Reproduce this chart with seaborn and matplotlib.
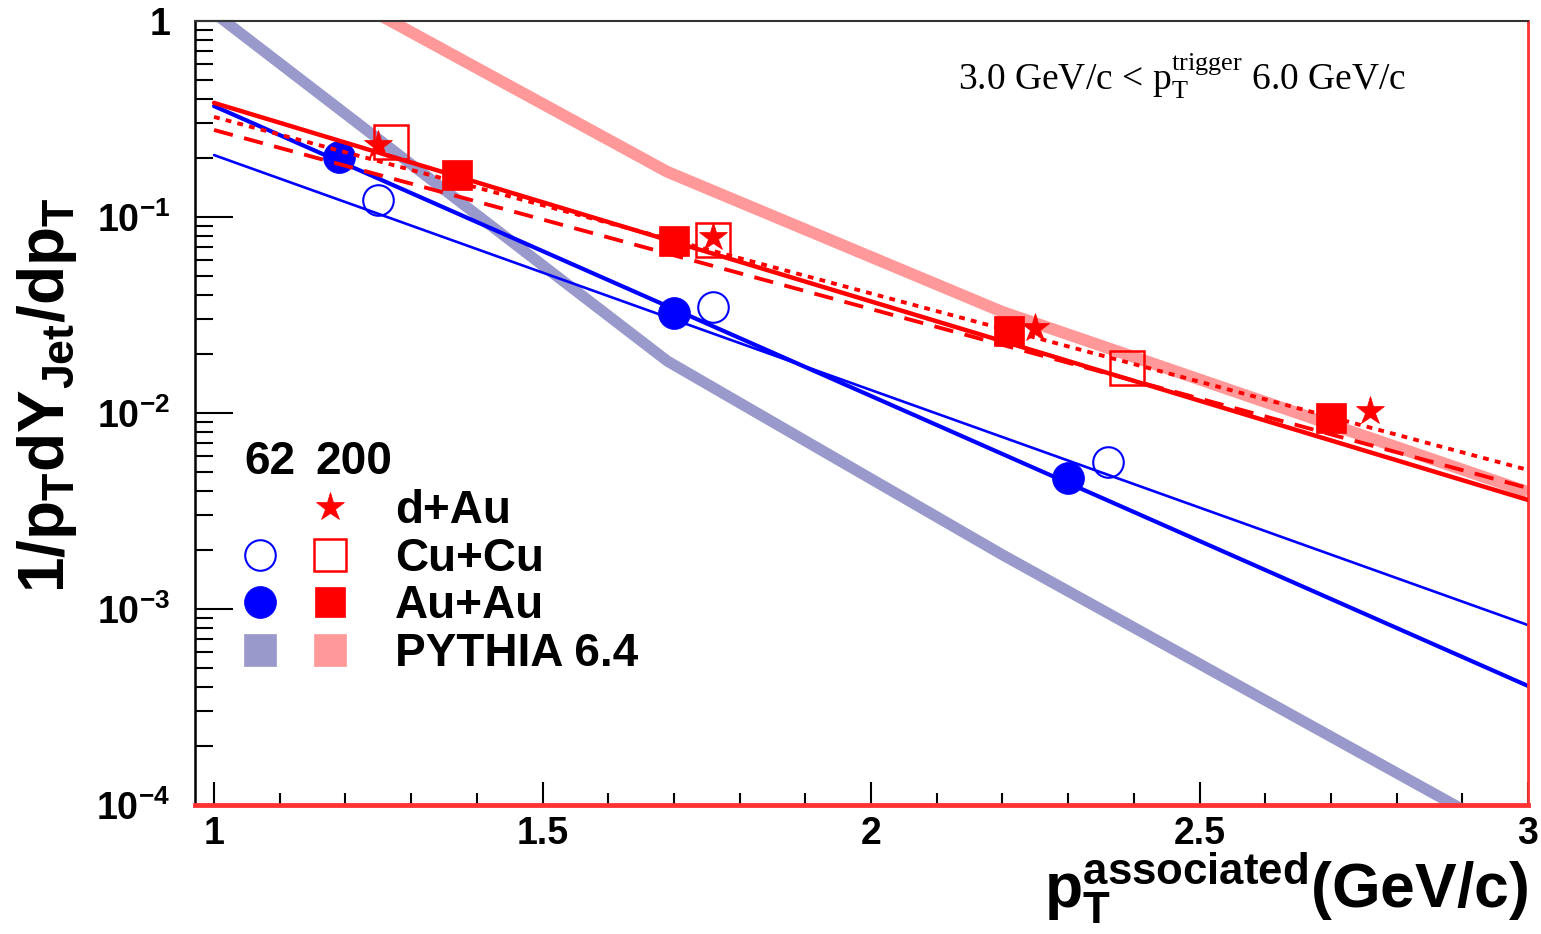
import numpy as np
import matplotlib
matplotlib.use("Agg")
import matplotlib.pyplot as plt
import seaborn as sns
from matplotlib.lines import Line2D
from matplotlib.legend_handler import HandlerTuple
from matplotlib.ticker import FixedLocator, FixedFormatter, NullFormatter

# ---------------- data ----------------
auau62_x = [1.19, 1.70, 2.30]
auau62_y = [0.202, 0.0324, 0.00466]
cucu62_x = [1.25, 1.76, 2.36]
cucu62_y = [0.122, 0.0347, 0.00562]
auau200_x = [1.37, 1.70, 2.21, 2.70]
auau200_y = [0.164, 0.0755, 0.0262, 0.00943]
cucu200_x = [1.27, 1.76, 2.39]
cucu200_y = [0.241, 0.0763, 0.0170]
dau200_x = [1.25, 1.76, 2.25, 2.76]
dau200_y = [0.233, 0.0791, 0.0271, 0.0102]

fit_x = [1.0, 3.0]
fit_auau62 = [0.368, 4.05e-4]
fit_cucu62 = [0.207, 8.28e-4]
fit_auau200 = [0.382, 3.60e-3]
fit_dau200 = [0.324, 5.12e-3]
fit_cucu200 = [0.278, 4.14e-3]

pythia_x = [1.0, 1.69, 2.2, 3.0]
pythia62_y = [1.10, 0.0184, 0.00189, 6.2e-5]
pythia200_y = [3.1, 0.170, 0.0328, 0.00395]

xticks = [1, 1.5, 2, 2.5, 3]
xtick_labels = ["1", "1.5", "2", "2.5", "3"]
yticks = [1, 1e-1, 1e-2, 1e-3, 1e-4]
ytick_labels = ["1", r"$\mathbf{10^{-1}}$", r"$\mathbf{10^{-2}}$",
                r"$\mathbf{10^{-3}}$", r"$\mathbf{10^{-4}}$"]
legend_labels = ["d+Au", "Cu+Cu", "Au+Au", "PYTHIA 6.4"]
energy_headers = ["62", "200"]

# ---------------- style ----------------
sns.set_style("white")
plt.rcParams["font.family"] = ["Liberation Sans", "DejaVu Sans"]
plt.rcParams["text.color"] = "black"
plt.rcParams["axes.labelcolor"] = "black"
plt.rcParams["xtick.color"] = "black"
plt.rcParams["ytick.color"] = "black"
plt.rcParams["mathtext.fontset"] = "custom"
plt.rcParams["mathtext.rm"] = "Liberation Serif"
plt.rcParams["mathtext.it"] = "Liberation Serif:italic"
plt.rcParams["mathtext.bf"] = "Liberation Sans:bold"
plt.rcParams["mathtext.sf"] = "Liberation Sans"

BLUE = "#0000ff"
RED = "#ff0000"
PY_BLUE = "#9999cc"
PY_RED = "#ff9999"

W, H = 1541, 934
fig = plt.figure(figsize=(W / 100, H / 100), dpi=100)
L, R, T, B = 195, 1528, 21, 805
ax = fig.add_axes([L / W, 1 - B / H, (R - L) / W, (B - T) / H])
ax.set_yscale("log")
ax.set_xlim(0.971, 3.0)
ax.set_ylim(1e-4, 1.0)

# PYTHIA curves
sns.lineplot(x=pythia_x, y=pythia62_y, ax=ax, color=PY_BLUE, lw=8, zorder=1,
             solid_capstyle="butt")
sns.lineplot(x=pythia_x, y=pythia200_y, ax=ax, color=PY_RED, lw=8.5, zorder=1,
             solid_capstyle="butt")

# fit lines
sns.lineplot(x=fit_x, y=fit_cucu62, ax=ax, color=BLUE, lw=1.9, zorder=2)
sns.lineplot(x=fit_x, y=fit_auau62, ax=ax, color=BLUE, lw=3.0, zorder=2)
sns.lineplot(x=fit_x, y=fit_auau200, ax=ax, color=RED, lw=3.2, zorder=4)
sns.lineplot(x=fit_x, y=fit_dau200, ax=ax, color=RED, lw=2.8, zorder=4,
             linestyle=(0, (1.5, 1.6)))
sns.lineplot(x=fit_x, y=fit_cucu200, ax=ax, color=RED, lw=2.8, zorder=4,
             linestyle=(0, (5, 3)))

# data points
def pts(x, y, marker, ms, mfc, mec, mew, z):
    sns.lineplot(x=x, y=y, ax=ax, linestyle="none", marker=marker,
                 markersize=ms, markerfacecolor=mfc, markeredgecolor=mec,
                 markeredgewidth=mew, color=mec, zorder=z)

pts(auau62_x, auau62_y, "o", 23, BLUE, BLUE, 0.5, 3)
pts(cucu62_x, cucu62_y, "o", 22, "none", BLUE, 1.5, 3)
pts(cucu200_x, cucu200_y, "s", 25, "none", RED, 1.8, 5)
pts(auau200_x, auau200_y, "s", 22, RED, RED, 0.5, 5)
pts(dau200_x, dau200_y, "*", 21, RED, RED, 0.5, 5)

# ---------------- axes styling ----------------
ax.xaxis.set_major_locator(FixedLocator(xticks))
ax.xaxis.set_major_formatter(FixedFormatter(xtick_labels))
ax.xaxis.set_minor_locator(FixedLocator(np.arange(1.0, 3.0001, 0.1)))
ax.yaxis.set_major_locator(FixedLocator(yticks))
ax.yaxis.set_major_formatter(FixedFormatter(ytick_labels))
minors = [m * 10.0 ** e for e in range(-4, 0) for m in range(2, 10)]
ax.yaxis.set_minor_locator(FixedLocator(minors))
ax.yaxis.set_minor_formatter(NullFormatter())

ax.tick_params(axis="x", which="major", direction="in", length=16.5, width=1.5,
               pad=8, labelsize=27, bottom=True, top=False)
ax.tick_params(axis="x", which="minor", direction="in", length=8.5, width=1.5,
               bottom=True, top=False)
ax.tick_params(axis="y", which="major", direction="in", length=27, width=1.5,
               pad=18, labelsize=27, left=True, right=False)
ax.tick_params(axis="y", which="minor", direction="in", length=13, width=1.5,
               left=True, right=False)
for lab in ax.get_xticklabels() + ax.get_yticklabels():
    lab.set_fontweight("bold")

ax.spines["left"].set_color("black")
ax.spines["left"].set_linewidth(1.8)
ax.spines["top"].set_color("#333333")
ax.spines["top"].set_linewidth(1.5)
ax.spines["right"].set_color("#ff3333")
ax.spines["right"].set_linewidth(2)
ax.spines["bottom"].set_color("#ff3333")
ax.spines["bottom"].set_linewidth(3.5)

ax.set_xlabel(r"$\mathbf{p_{T}^{associated}(GeV/c)}$", fontsize=45,
              loc="right", va="top")
ax.xaxis.set_label_coords(1.0, -0.058)
ax.set_ylabel(r"$\mathbf{1/p_{T}dY_{Jet}/dp_{T}}$", fontsize=46)
ax.yaxis.set_label_coords(-0.087, 0.523)

fig.text(958 / W, 1 - 90 / H,
         r"3.0 GeV/c < p$_{\mathrm{T}}^{\mathrm{trigger}}$ 6.0 GeV/c",
         fontsize=27, family="Liberation Serif", va="baseline", ha="left")

# ---------------- legend ----------------
def mk(marker, ms, mfc, mec, mew=0.5):
    return Line2D([], [], linestyle="none", marker=marker, markersize=ms,
                  markerfacecolor=mfc, markeredgecolor=mec, markeredgewidth=mew)

blank = Line2D([], [], linestyle="none", marker="None")
handles = [
    (blank, mk("*", 21, RED, RED)),
    (mk("o", 22, "none", BLUE, 1.5), mk("s", 23, "none", RED, 1.8)),
    (mk("o", 23, BLUE, BLUE), mk("s", 22, RED, RED)),
    (mk("s", 23, PY_BLUE, PY_BLUE), mk("s", 23, PY_RED, PY_RED)),
]
leg = ax.legend(handles, legend_labels,
                handler_map={tuple: HandlerTuple(ndivide=None, pad=0.655)},
                loc="upper left", bbox_to_anchor=(240 / W, 1 - 489 / H),
                bbox_transform=fig.transFigure, frameon=False, borderpad=0,
                borderaxespad=0, handlelength=2.4, handletextpad=0.98,
                labelspacing=0.08,
                prop=dict(family="Liberation Sans", weight="bold", size=33))
leg.set_zorder(10)
for t in leg.get_texts():
    t.set_color("black")

fig.text(270 / W, 1 - 462 / H, energy_headers[0], fontsize=33,
         fontweight="bold", ha="center", va="center")
fig.text(354 / W, 1 - 462 / H, energy_headers[1], fontsize=33,
         fontweight="bold", ha="center", va="center")

fig.savefig("out.png", dpi=100)
